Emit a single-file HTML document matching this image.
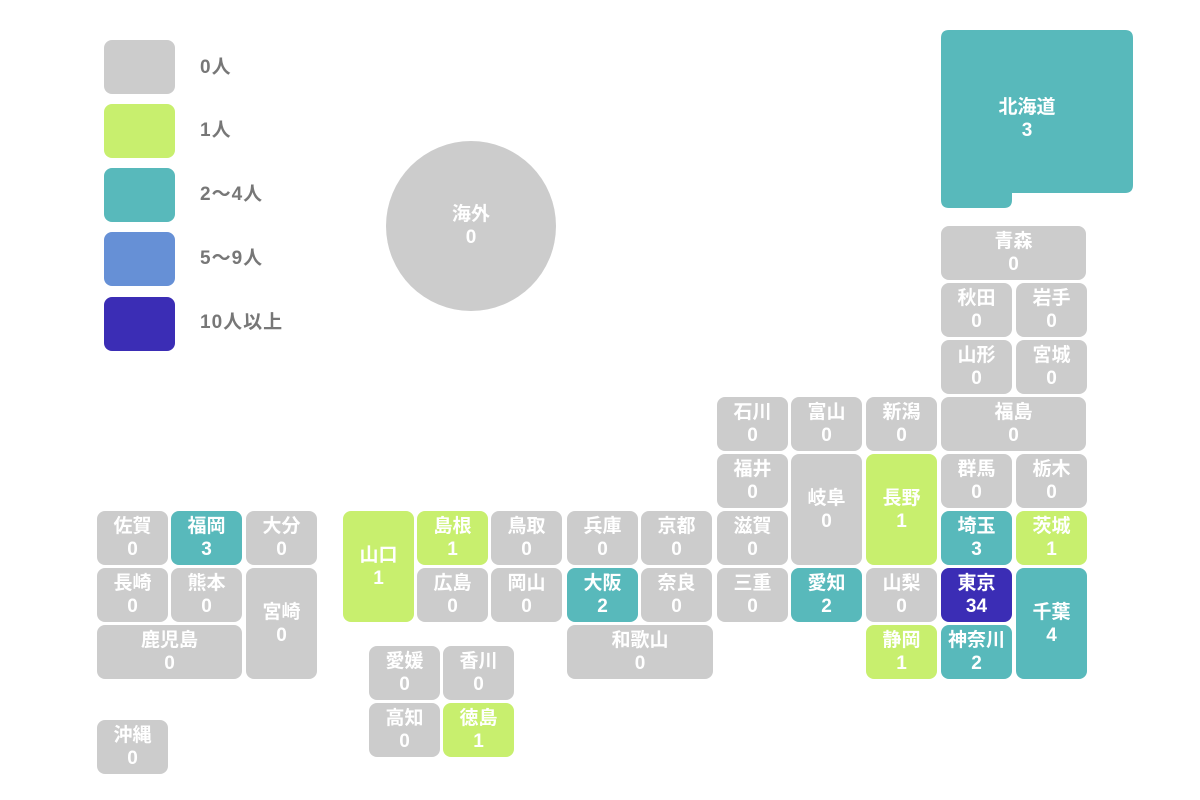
<!DOCTYPE html>
<html><head><meta charset="utf-8"><style>
body{margin:0;width:1200px;height:800px;background:#fff;position:relative;overflow:hidden;font-family:"Liberation Sans","Noto Sans CJK JP",sans-serif;}
.c{position:absolute;width:71px;height:54px;border-radius:8px;background:#cccccc;color:#fff;font-weight:bold;font-size:19px;line-height:23px;display:flex;flex-direction:column;justify-content:center;align-items:center;text-align:center;letter-spacing:0px}
.g{background:#cccccc}.y{background:#c8ef6e}.t{background:#58b9bb}.d{background:#3b2db5}
.lg{position:absolute;left:104px;width:71px;height:54px;border-radius:8px}
.lt{position:absolute;left:200px;color:#777;font-weight:bold;font-size:19px;line-height:20px;letter-spacing:1px}
</style></head><body>
<div class="lg" style="top:40px;background:#cccccc"></div><div class="lt" style="top:58px">0人</div>
<div class="lg" style="top:104px;background:#c8ef6e"></div><div class="lt" style="top:121px">1人</div>
<div class="lg" style="top:168px;background:#58b9bb"></div><div class="lt" style="top:185px">2～4人</div>
<div class="lg" style="top:232px;background:#6690d6"></div><div class="lt" style="top:249px">5～9人</div>
<div class="lg" style="top:297px;background:#3b2db5"></div><div class="lt" style="top:313px">10人以上</div>

<div class="c g" style="left:386px;top:141px;width:170px;height:170px;border-radius:50%">海外<br>0</div>

<svg style="position:absolute;left:0;top:0" width="1200" height="800"><path d="M949,30 H1125 Q1133,30 1133,38 V185 Q1133,193 1125,193 H1012 V200 Q1012,208 1004,208 H949 Q941,208 941,200 V38 Q941,30 949,30 Z" fill="#58b9bb"/></svg>
<div class="c" style="left:941px;top:30px;width:172px;height:178px;background:none">北海道<br>3</div>

<div class="c g" style="left:941px;top:226px;width:145px">青森<br>0</div>
<div class="c g" style="left:941px;top:283px">秋田<br>0</div>
<div class="c g" style="left:1016px;top:283px">岩手<br>0</div>
<div class="c g" style="left:941px;top:340px">山形<br>0</div>
<div class="c g" style="left:1016px;top:340px">宮城<br>0</div>
<div class="c g" style="left:941px;top:397px;width:145px">福島<br>0</div>
<div class="c g" style="left:941px;top:454px">群馬<br>0</div>
<div class="c g" style="left:1016px;top:454px">栃木<br>0</div>
<div class="c t" style="left:941px;top:511px">埼玉<br>3</div>
<div class="c y" style="left:1016px;top:511px">茨城<br>1</div>
<div class="c d" style="left:941px;top:568px">東京<br>34</div>
<div class="c t" style="left:1016px;top:568px;height:111px">千葉<br>4</div>
<div class="c t" style="left:941px;top:625px">神奈川<br>2</div>

<div class="c g" style="left:866px;top:397px">新潟<br>0</div>
<div class="c y" style="left:866px;top:454px;height:111px">長野<br>1</div>
<div class="c g" style="left:866px;top:568px">山梨<br>0</div>
<div class="c y" style="left:866px;top:625px">静岡<br>1</div>

<div class="c g" style="left:717px;top:397px">石川<br>0</div>
<div class="c g" style="left:791px;top:397px">富山<br>0</div>
<div class="c g" style="left:717px;top:454px">福井<br>0</div>
<div class="c g" style="left:791px;top:454px;height:111px">岐阜<br>0</div>
<div class="c g" style="left:717px;top:511px">滋賀<br>0</div>
<div class="c g" style="left:717px;top:568px">三重<br>0</div>
<div class="c t" style="left:791px;top:568px">愛知<br>2</div>

<div class="c g" style="left:567px;top:511px">兵庫<br>0</div>
<div class="c g" style="left:641px;top:511px">京都<br>0</div>
<div class="c t" style="left:567px;top:568px">大阪<br>2</div>
<div class="c g" style="left:641px;top:568px">奈良<br>0</div>
<div class="c g" style="left:567px;top:625px;width:146px">和歌山<br>0</div>

<div class="c y" style="left:343px;top:511px;height:111px">山口<br>1</div>
<div class="c y" style="left:417px;top:511px">島根<br>1</div>
<div class="c g" style="left:491px;top:511px">鳥取<br>0</div>
<div class="c g" style="left:417px;top:568px">広島<br>0</div>
<div class="c g" style="left:491px;top:568px">岡山<br>0</div>

<div class="c g" style="left:369px;top:646px">愛媛<br>0</div>
<div class="c g" style="left:443px;top:646px">香川<br>0</div>
<div class="c g" style="left:369px;top:703px">高知<br>0</div>
<div class="c y" style="left:443px;top:703px">徳島<br>1</div>

<div class="c g" style="left:97px;top:511px">佐賀<br>0</div>
<div class="c t" style="left:171px;top:511px">福岡<br>3</div>
<div class="c g" style="left:246px;top:511px">大分<br>0</div>
<div class="c g" style="left:97px;top:568px">長崎<br>0</div>
<div class="c g" style="left:171px;top:568px">熊本<br>0</div>
<div class="c g" style="left:246px;top:568px;height:111px">宮崎<br>0</div>
<div class="c g" style="left:97px;top:625px;width:145px">鹿児島<br>0</div>
<div class="c g" style="left:97px;top:720px">沖縄<br>0</div>
</body></html>
